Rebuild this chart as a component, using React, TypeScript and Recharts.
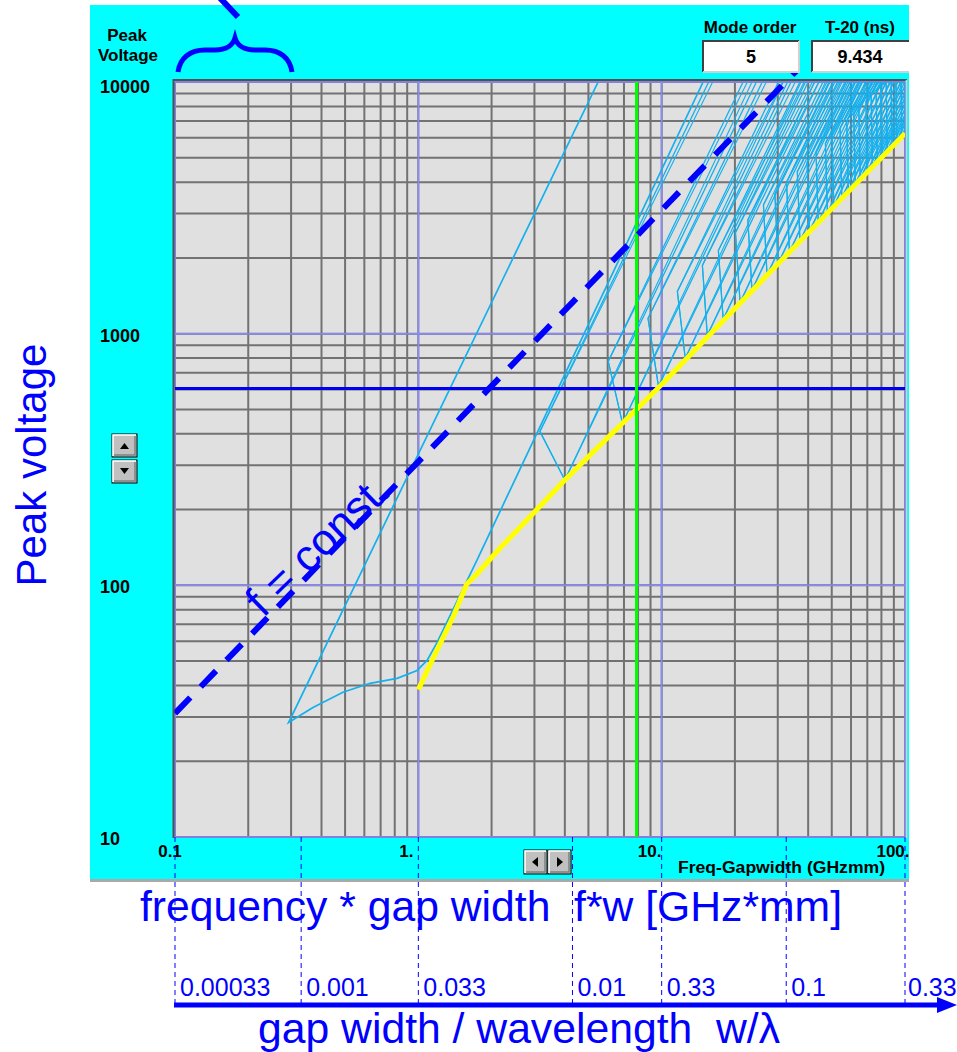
import React from 'react';
import { LineChart, Line, XAxis, YAxis, CartesianGrid, ReferenceLine } from 'recharts';

const FONT = '"Liberation Sans", Arial, Helvetica, sans-serif';
const BLUE = '#0000ff';
const CYAN_LINE = '#14b0ee';

// ---- axis values / labels ----
const xGridValues = [0.1, 0.2, 0.3, 0.4, 0.5, 0.6, 0.7, 0.8, 0.9, 1, 2, 3, 4, 5, 6, 7, 8, 9, 10, 20, 30, 40, 50, 60, 70, 80, 90, 100];
const xDecadeValues = [0.1, 1, 10, 100];
const xDecadeLabels = ['0.1', '1.', '10.', '100.'];
const yGridValues = [10, 20, 30, 40, 50, 60, 70, 80, 90, 100, 200, 300, 400, 500, 600, 700, 800, 900, 1000, 2000, 3000, 4000, 5000, 6000, 7000, 8000, 9000, 10000];
const yDecadeValues = [10, 100, 1000, 10000];
const yDecadeLabels = ['10', '100', '1000', '10000'];
const wTickValues = [0.1, 0.33, 1, 4.3, 10, 32.5, 100];
const wTickLabels = ['0.00033', '0.001', '0.033', '0.01', '0.33', '0.1', '0.33'];
const X_DOMAIN = [0.1, 100];
const Y_DOMAIN = [10, 10000];
const TOP_V = 10000;

// ---- mode 1 zone (upper arm, tip, curved lower boundary) ----
const zone1F = [5.48, 0.293, 0.369, 0.49, 0.633, 0.818, 0.988, 1.086, 1.19, 1.74, 14.8];
const zone1V = [10000, 28.5, 32.7, 37.6, 40.8, 42.7, 45.9, 50.3, 58.9, 125.7, 10000];

// ---- higher mode zones: tip, minimum and where the arms leave the top ----
const zoneTipF = [3.16, 6.03, 8.79, 11.6, 14.7, 17.1, 20.1, 22.6, 26.2, 29.2, 32.6, 36.1, 39.6, 43.1, 47.1, 50.1, 54.1, 57.6, 61.6, 64.6, 69.1, 72.6, 76.1, 79.6, 83.6, 87.6, 91.6, 96.1];
const zoneTipV = [409, 776, 1151, 1472, 1867, 2140, 2520, 2830, 3250, 3600, 4000, 4400, 4800, 5250, 5700, 6100, 6550, 7000, 7450, 7850, 8400, 8800, 9200, 9650, 10500, 11000, 11500, 12000];
const zoneMinF = [4.0, 6.9, 9.7, 12.5, 15.4, 17.9, 21.0, 23.5, 27.1, 30.1, 33.5, 37, 40.5, 44, 48, 51, 55, 58.5, 62.5, 65.5, 70, 73.5, 77, 80.5, 84.5, 88.5, 92.5, 97];
const zoneMinV = [262, 441, 618, 798, 985, 1140, 1330, 1490, 1710, 1900, 2110, 2330, 2550, 2770, 3020, 3210, 3460, 3680, 3930, 4120, 4400, 4620, 4840, 5060, 5310, 5560, 5810, 6090];
const zoneUpperTopF = [15.6, 21.6, 25.9, 30.2, 34.0, 37.0, 40.0, 42.5, 46.0, 48.7, 51.5, 54.4, 57.2, 59.5, 62.4, 64.1, 66.9, 68.8, 71.4, 72.9, 75.4, 77.4, 79.4, 81.0, 83.6, 87.6, 91.6, 96.1];
const zoneLowerTopF = [24.5, 32.9, 39.0, 44.3, 49.1, 52.8, 57.4, 60.7, 65.3, 69.1, 72.9, 76.7, 80.2, 83.6, 87.3, 90.0, 93.5, 96.4, 99.7, 102, 105.5, 108, 110.7, 113, 116, 118.7, 121, 124];
// second (doubled) boundary of each arm
const zoneUpperTopF2 = [16.2, 22.5, 26.9, 31.4, 35.4, 38.5, 41.6, 44.2, 47.8, 50.6, 53.6, 56.6, 59.5, 61.9, 64.9, 66.7, 69.6, 71.6, 74.3, 75.8, 78.4, 80.5, 82.6, 84.2, 83.6, 87.6, 91.6, 96.1];
const zoneLowerTopF2 = [23.5, 31.6, 37.4, 42.5, 47.1, 50.7, 55.1, 58.3, 62.7, 66.3, 70.0, 73.6, 77.0, 80.3, 83.8, 86.4, 89.8, 92.5, 95.7, 97.9, 101.3, 103.7, 106.3, 108.5, 111.4, 114, 116.2, 119];

// ---- yellow lower envelope ----
const yellowF = [1.0, 1.19, 1.39, 1.58, 1.74, 2.16, 4.0, 10, 30, 100];
const yellowV = [38.5, 55, 75, 101, 111, 140, 262, 628, 1890, 6250];

// ---- markers ----
const selectedFw = 7.88;
const selectedVoltage = 606;
const constFreqF = [0.1, 35.9];
const constFreqV = [31, 11120];
const modeOrder = '5';
const t20 = '9.434';

const zone1Data = zone1F.map((f, i) => ({ f, v: zone1V[i] }));
const zoneData = zoneTipF.map((tf, i) => [
  { f: zoneUpperTopF[i], v: TOP_V },
  { f: tf, v: zoneTipV[i] },
  { f: zoneMinF[i], v: zoneMinV[i] },
  { f: zoneLowerTopF[i], v: TOP_V },
]);
const zoneData2 = zoneTipF.map((tf, i) => [
  { f: zoneUpperTopF2[i], v: TOP_V },
  { f: tf, v: zoneTipV[i] },
  { f: zoneMinF[i], v: zoneMinV[i] },
  { f: zoneLowerTopF2[i], v: TOP_V },
]);
const yellowData = yellowF.map((f, i) => ({ f, v: yellowV[i] }));

const YTick = (props: any) => {
  const { x, y, payload } = props;
  const i = yDecadeValues.indexOf(payload.value);
  if (i < 0) return <g />;
  return (
    <text x={x - 75} y={y + (payload.value === 10000 ? 11 : 8)} fontFamily={FONT} fontWeight="bold" fontSize={18} fill="#000">
      {yDecadeLabels[i]}
    </text>
  );
};

const XTick = (props: any) => {
  const { x, y, payload } = props;
  const i = xDecadeValues.indexOf(payload.value);
  if (i < 0) return <g />;
  return (
    <text x={x + (i === 0 ? -5 : -12)} y={y + 20} textAnchor="middle" fontFamily={FONT} fontWeight="bold" fontSize={17} fill="#000">
      {xDecadeLabels[i]}
    </text>
  );
};

const WTick = (props: any) => {
  const { x, y, payload } = props;
  const i = wTickValues.indexOf(payload.value);
  if (i < 0) return <g />;
  const last = i === wTickValues.length - 1;
  return (
    <g>
      <line x1={x} x2={x} y1={y - 40} y2={y + 126} stroke={BLUE} strokeWidth={1} strokeDasharray="5 4" />
      <text x={x + (last ? 3 : 5)} y={y + 119} fontFamily={FONT} fontSize={25} fill={BLUE}>
        {wTickLabels[i]}
      </text>
    </g>
  );
};

const Btn = ({ x, y, w, h }: { x: number; y: number; w: number; h: number }) => (
  <g>
    <rect x={x} y={y} width={w} height={h} fill="#c0c0c0" stroke="#000" strokeWidth={1} />
    <polyline points={`${x + 1},${y + h - 1} ${x + 1},${y + 1} ${x + w - 1},${y + 1}`} fill="none" stroke="#fff" strokeWidth={1.5} />
    <polyline points={`${x + 2},${y + h - 2} ${x + w - 2},${y + h - 2} ${x + w - 2},${y + 2}`} fill="none" stroke="#808080" strokeWidth={1.5} />
  </g>
);

export default function App() {
  return (
    <div style={{ position: 'absolute', left: 0, top: 0, width: 957, height: 1052, background: '#fff', overflow: 'hidden' }}>
      <div style={{ position: 'absolute', left: 90, top: 5, width: 819, height: 874, background: '#00ffff' }} />
      <div style={{ position: 'absolute', left: 90, top: 879, width: 819, height: 3, background: '#a9a9a9' }} />
      <div style={{ position: 'absolute', left: 0, top: 0 }}>
        <LineChart width={957} height={1052} margin={{ top: 82, right: 52, bottom: 45, left: 90 }}>
          <CartesianGrid stroke="#727272" strokeWidth={2} fill="#e0e0e0" fillOpacity={1} horizontalValues={yGridValues} verticalValues={xGridValues} />
          <CartesianGrid stroke="#8888ff" strokeWidth={1.5} horizontalValues={yDecadeValues} verticalValues={xDecadeValues} />
          <XAxis
            dataKey="f"
            type="number"
            scale="log"
            domain={X_DOMAIN}
            allowDataOverflow
            ticks={xGridValues}
            interval={0}
            tick={XTick}
            tickLine={false}
            axisLine={false}
            tickSize={0}
            tickMargin={0}
            height={40}
          />
          <XAxis
            xAxisId="w"
            dataKey="f"
            type="number"
            scale="log"
            domain={X_DOMAIN}
            allowDataOverflow
            ticks={wTickValues}
            interval={0}
            tick={WTick}
            tickLine={false}
            axisLine={false}
            tickSize={0}
            tickMargin={0}
            height={130}
          />
          <YAxis
            dataKey="v"
            type="number"
            scale="log"
            domain={Y_DOMAIN}
            allowDataOverflow
            ticks={yGridValues}
            interval={0}
            tick={YTick}
            tickLine={false}
            axisLine={false}
            tickSize={0}
            tickMargin={0}
            width={85}
          />
          <Line data={zone1Data} dataKey="v" type="linear" stroke={CYAN_LINE} strokeWidth={1.7} dot={false} activeDot={false} isAnimationActive={false} />
          {zoneData.map((d, i) => (
            <Line key={'z' + i} data={d} dataKey="v" type="linear" stroke={CYAN_LINE} strokeWidth={1.3} dot={false} activeDot={false} isAnimationActive={false} />
          ))}
          {zoneData2.map((d, i) => (
            <Line key={'zz' + i} data={d} dataKey="v" type="linear" stroke={CYAN_LINE} strokeWidth={1.1} dot={false} activeDot={false} isAnimationActive={false} />
          ))}
          <ReferenceLine y={selectedVoltage} stroke="#0000ee" strokeWidth={3} />
          <Line data={yellowData} dataKey="v" type="linear" stroke="#ffff00" strokeWidth={5} dot={false} activeDot={false} isAnimationActive={false} />
          <ReferenceLine x={selectedFw} stroke="#00ff00" strokeWidth={3} />
          <ReferenceLine
            segment={[{ x: constFreqF[0], y: constFreqV[0] }, { x: constFreqF[1], y: constFreqV[1] }]}
            ifOverflow="visible"
            stroke={BLUE}
            strokeWidth={6}
            strokeDasharray="22 15"
          />
        </LineChart>
      </div>
      <svg width={957} height={1052} style={{ position: 'absolute', left: 0, top: 0, pointerEvents: 'none' }}>
        {/* plot 3D border */}
        <line x1={173.5} y1={79} x2={173.5} y2={838} stroke="#505050" strokeWidth={2} />
        <line x1={173} y1={80} x2={907} y2={80} stroke="#505050" strokeWidth={2} />
        <line x1={906.5} y1={80} x2={906.5} y2={838} stroke="#d0d0d0" strokeWidth={1.5} />
        {/* top-left labels */}
        <text x={127} y={41} textAnchor="middle" fontFamily={FONT} fontWeight="bold" fontSize={17} fill="#000">Peak</text>
        <text x={128} y={61} textAnchor="middle" fontFamily={FONT} fontWeight="bold" fontSize={17} fill="#000">Voltage</text>
        {/* brace and pointer */}
        <path d="M 178 72 C 180 58, 190 50, 205 50 L 215 50 C 226 50, 233 45, 235 38 C 237 45, 244 50, 255 50 L 265 50 C 280 50, 290 58, 292 72" fill="none" stroke={BLUE} strokeWidth={5} />
        <line x1={220} y1={-2} x2={238} y2={17} stroke={BLUE} strokeWidth={6} />
        {/* mode order / T-20 boxes */}
        <text x={750} y={33} textAnchor="middle" fontFamily={FONT} fontWeight="bold" fontSize={17} fill="#000">Mode order</text>
        <text x={860} y={33} textAnchor="middle" fontFamily={FONT} fontWeight="bold" fontSize={17} fill="#000">T-20 (ns)</text>
        <rect x={703} y={41} width={96} height={31} fill="#fff" />
        <polyline points="703,72 703,41 799,41" fill="none" stroke="#404040" strokeWidth={2} />
        <polyline points="703,72 799,72 799,41" fill="none" stroke="#d0d0d0" strokeWidth={2} />
        <rect x={812} y={41} width={97} height={31} fill="#fff" />
        <polyline points="812,72 812,41 909,41" fill="none" stroke="#404040" strokeWidth={2} />
        <polyline points="812,72 909,72" fill="none" stroke="#d0d0d0" strokeWidth={2} />
        <text x={751} y={63} textAnchor="middle" fontFamily={FONT} fontWeight="bold" fontSize={18} fill="#000">{modeOrder}</text>
        <text x={860} y={63} textAnchor="middle" fontFamily={FONT} fontWeight="bold" fontSize={18} fill="#000">{t20}</text>
        {/* spin buttons */}
        <Btn x={112} y={434} w={25} h={23} />
        <polygon points="120,449 129,449 124.5,443" fill="#000" />
        <Btn x={112} y={460} w={25} h={23} />
        <polygon points="120,468 129,468 124.5,474" fill="#000" />
        {/* scroll buttons */}
        <Btn x={524} y={850} w={23} h={24} />
        <polygon points="538,857 538,867 532,862" fill="#000" />
        <Btn x={548} y={850} w={23} h={24} />
        <polygon points="557,857 557,867 563,862" fill="#000" />
        <text x={678} y={873} fontFamily={FONT} fontWeight="bold" fontSize={16} fill="#000" textLength={207} lengthAdjust="spacingAndGlyphs">Freq-Gapwidth (GHzmm)</text>
        {/* annotations */}
        <text transform="translate(46,465) rotate(-90)" textAnchor="middle" fontFamily={FONT} fontSize={42} fill={BLUE}>Peak voltage</text>
        <text transform="translate(328,556) rotate(-44)" textAnchor="middle" fontFamily={FONT} fontSize={44} fill={BLUE}>f = const.</text>
        <text x={140} y={921} fontFamily={FONT} fontSize={42} fill={BLUE} textLength={702} lengthAdjust="spacingAndGlyphs" style={{ whiteSpace: 'pre' }}>frequency * gap width  f*w [GHz*mm]</text>
        <line x1={174} y1={1005} x2={942} y2={1005} stroke={BLUE} strokeWidth={5} />
        <polygon points="937,997 957,1005 937,1013" fill={BLUE} />
        <text x={258} y={1043} fontFamily={FONT} fontSize={42} fill={BLUE} textLength={522} lengthAdjust="spacingAndGlyphs" style={{ whiteSpace: 'pre' }}>gap width / wavelength  w/λ</text>
      </svg>
    </div>
  );
}
